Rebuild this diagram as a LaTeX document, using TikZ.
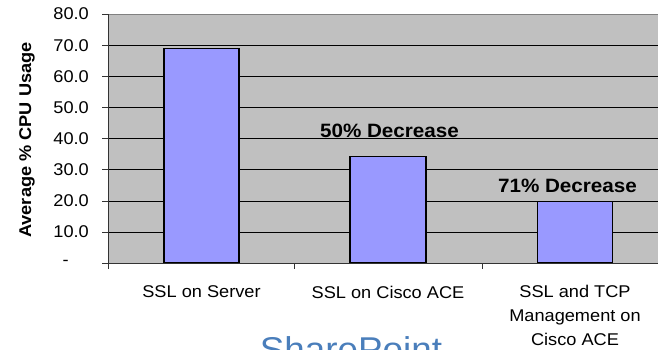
\documentclass[tikz,border=0pt]{standalone}
\usepackage{fontspec}
\setmainfont[FakeStretch=1.07]{Liberation Sans}
\definecolor{plotbg}{HTML}{C0C0C0}
\definecolor{barfill}{HTML}{9999FF}
\definecolor{spblue}{RGB}{74,126,187}
\definecolor{axisgray}{HTML}{808080}
\tikzset{
  grid line/.style={draw=black, line width=0.9pt},
  bar/.style={fill=barfill, draw=black, line width=1.1pt},
  ylab/.style={anchor=east, inner sep=0pt, font=\fontsize{17}{20}\selectfont},
  xlab/.style={align=center, inner sep=0pt, font=\fontsize{17}{24}\selectfont},
  note/.style={inner sep=0pt, font=\fontsize{19.3}{22}\selectfont\bfseries},
  axis line/.style={draw=black!80, line width=0.8pt}
}
\begin{document}
\begin{tikzpicture}[x=1pt, y=-1pt]
\useasboundingbox (0,0) rectangle (658,349);
\begin{scope}
\clip (0,0) rectangle (658,349);
% plot area
\fill[plotbg] (108,14) rectangle (680,263.3);
\draw[axisgray, line width=1pt] (108,14) -- (680,14);
\foreach \v in {1,...,7} {
  \draw[grid line] (108,{263.3-31.16*\v}) -- (680,{263.3-31.16*\v});
}
% bars
\node[bar, minimum width=75pt, minimum height=214pt, inner sep=0pt, anchor=south] (b1) at (201.5,263.3) {};
\node[bar, minimum width=76pt, minimum height=106.6pt, inner sep=0pt, anchor=south] (b2) at (388,263.3) {};
\node[bar, minimum width=75pt, minimum height=61pt, inner sep=0pt, anchor=south] (b3) at (575.2,263.3) {};
% axes
\draw[axis line] (108,263.3) -- (680,263.3);
\draw[axis line] (108,14) -- (108,269);
\foreach \v in {0,...,8} {
  \draw[axis line] (102.3,{263.3-31.16*\v}) -- (108,{263.3-31.16*\v});
}
\draw[axis line] (294.7,263.3) -- (294.7,269);
\draw[axis line] (482,263.3) -- (482,269);
% y labels
\node[ylab] (y80) at (89,14) {80.0};
\node[ylab] (y70) at (89,45.2) {70.0};
\node[ylab] (y60) at (89,76.3) {60.0};
\node[ylab] (y50) at (89,107.5) {50.0};
\node[ylab] (y40) at (89,138.7) {40.0};
\node[ylab] (y30) at (89,169.5) {30.0};
\node[ylab] (y20) at (89,200.6) {20.0};
\node[ylab] (y10) at (89,232) {10.0};
\node[ylab] (y0) at (69,263) {-};
% y title
\node[inner sep=0pt, rotate=90, font=\fontsize{17}{20}\selectfont\bfseries] (ytitle) at (27,140) {Average \% CPU Usage};
% x labels
\node[xlab] (x1) at (201.5,292) {SSL on Server};
\node[xlab] (x2) at (388,292) {SSL on Cisco ACE};
\node[xlab, anchor=north] (x3) at (575,284.5) {SSL and TCP\\Management on\\Cisco ACE};
% notes
\node[note] (n1) at (389.5,131) {50\% Decrease};
\node[note] (n2) at (567.5,185.5) {71\% Decrease};
% SharePoint
\node[inner sep=0pt, anchor=base, text=spblue, font=\fontsize{34.4}{40}\selectfont] (sp) at (351,361.3) {SharePoint};
\end{scope}
\end{tikzpicture}
\end{document}
